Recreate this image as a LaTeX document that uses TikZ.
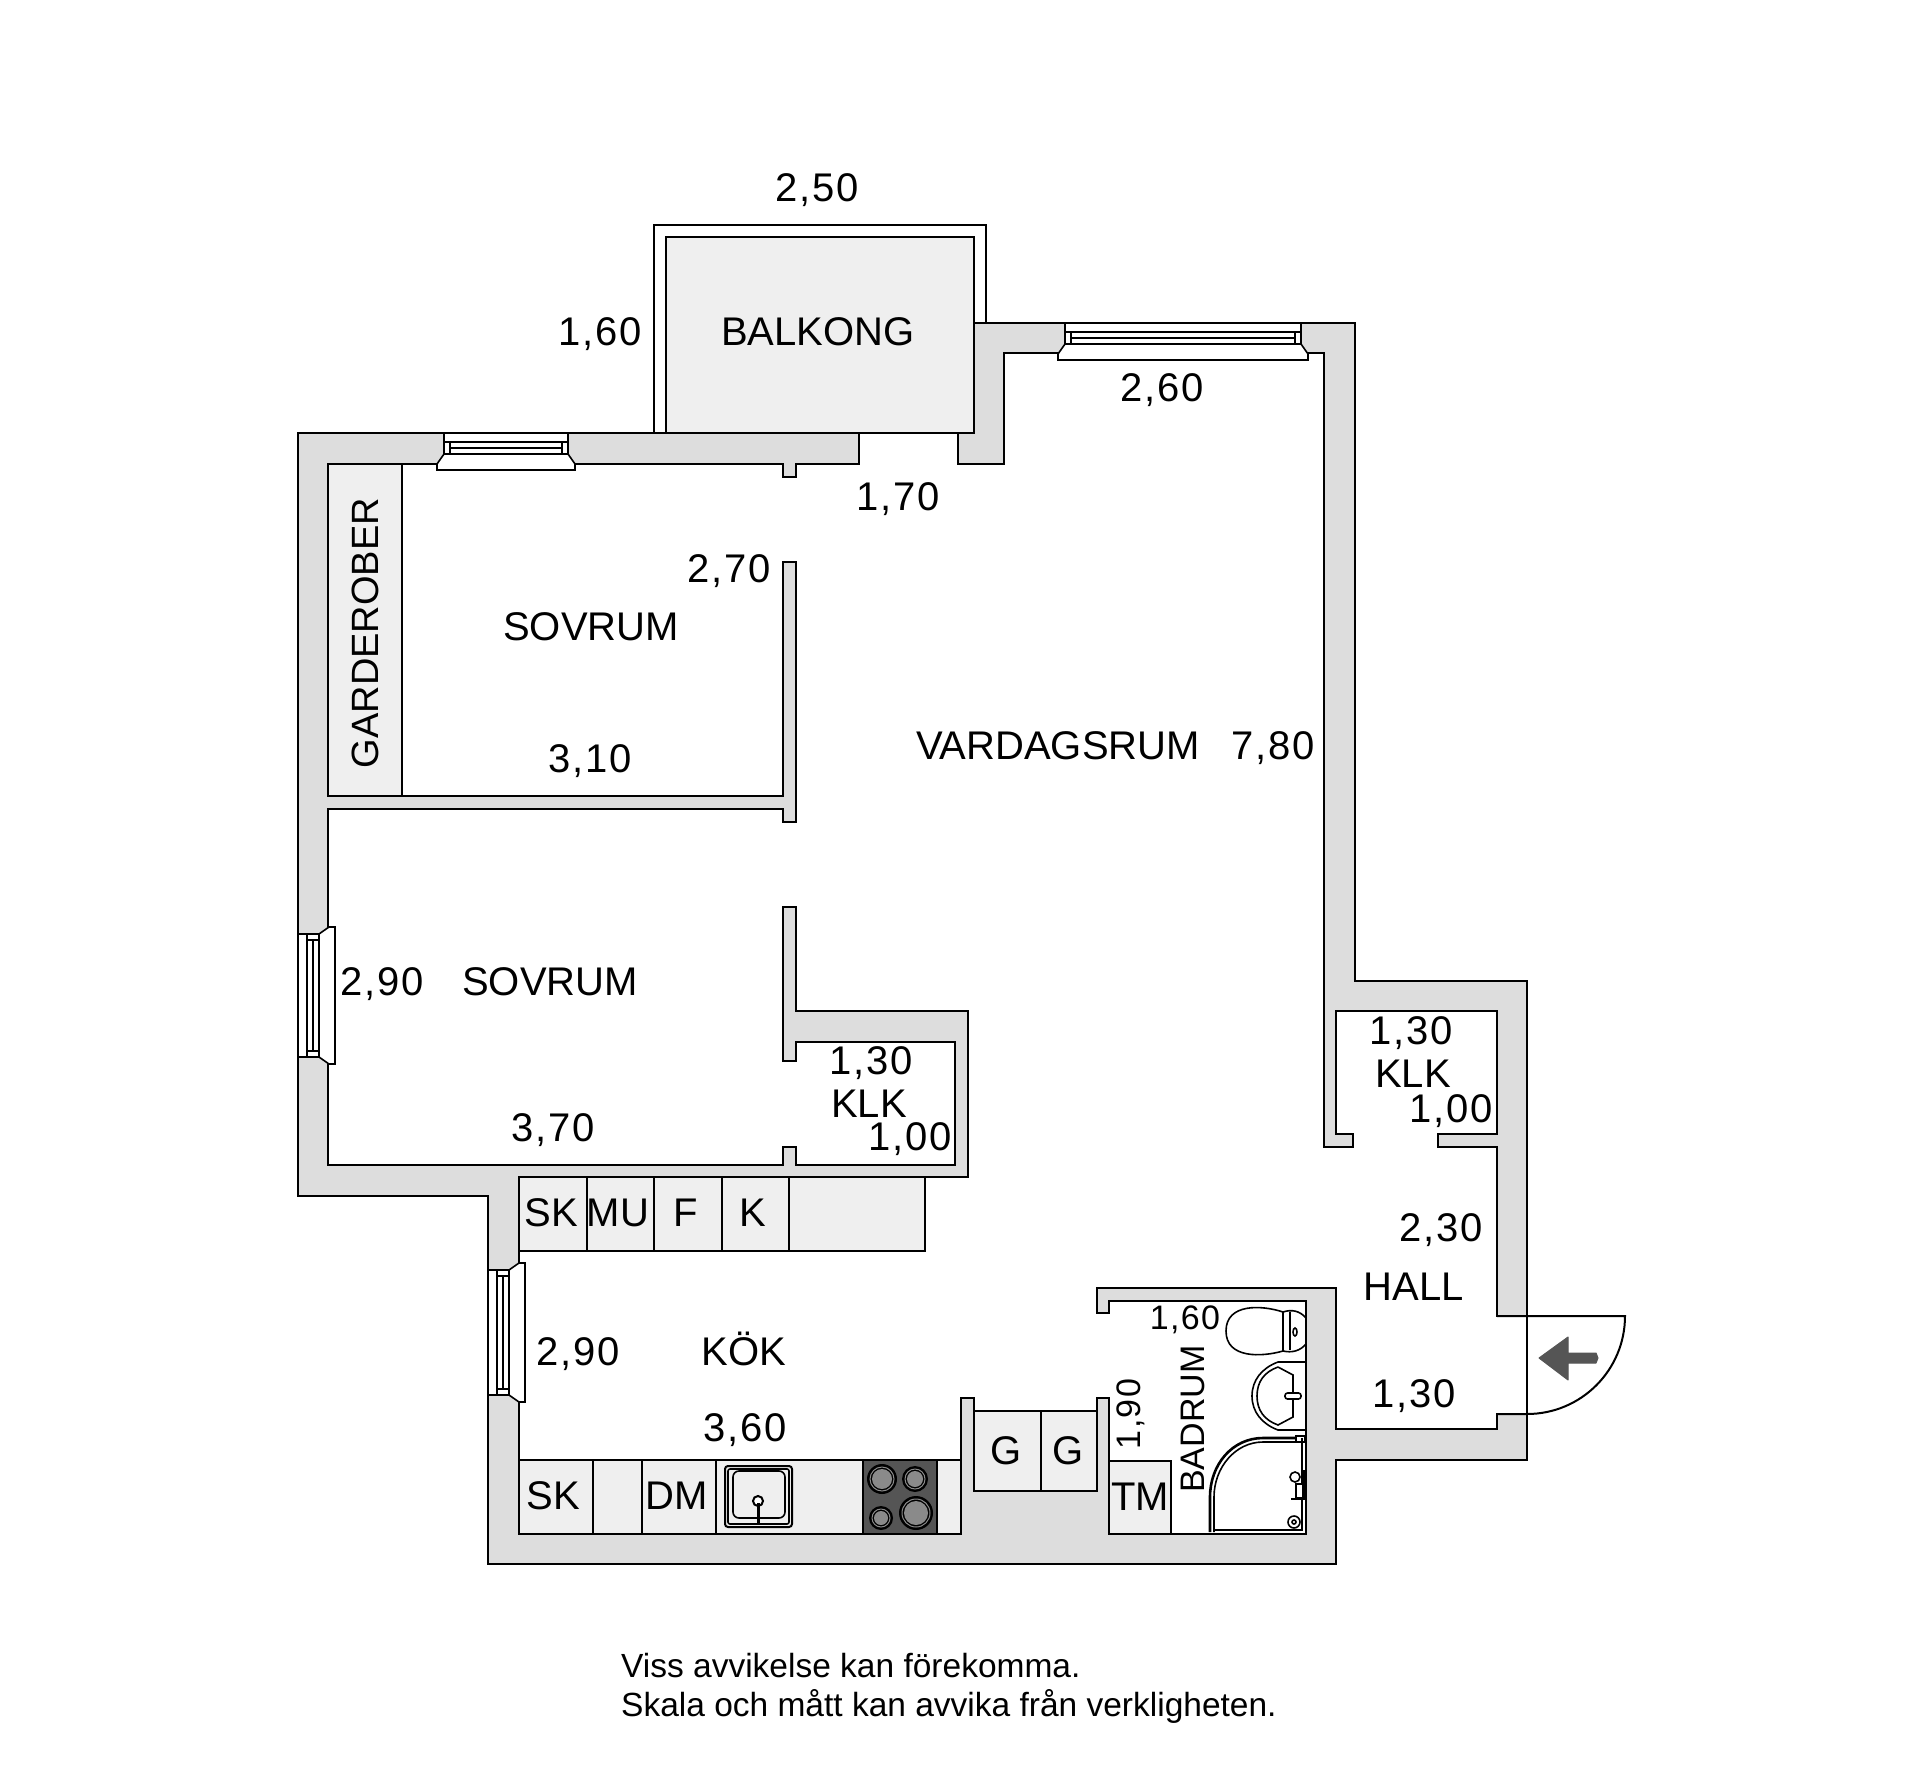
\documentclass[tikz,border=0pt]{standalone}
\usepackage{fontspec}
\setmainfont{Liberation Sans}
\newfontfamily\numfont[LetterSpace=4]{Liberation Sans}
\usepackage{xcolor}
\usetikzlibrary{calc}
\definecolor{wallgray}{HTML}{DDDDDD}
\definecolor{unitgray}{HTML}{EFEFEF}
\definecolor{hobgray}{HTML}{555555}
\definecolor{ringgray}{HTML}{8A8A8A}

\begin{document}
\begin{tikzpicture}[x=1pt,y=-1pt]
    % Styles
    \tikzstyle{wall} = [draw=black, fill=wallgray, line width=2.2pt, line join=miter]
    \tikzstyle{unit} = [draw=black, fill=unitgray, line width=1.6pt]
    \tikzstyle{thin} = [draw=black, line width=1.6pt]
    \tikzstyle{fixture} = [draw=black, fill=white, line width=1.6pt]
    \tikzstyle{label} = [font=\fontsize{40}{40}\selectfont, inner sep=0pt, yshift=-1pt]
    \tikzstyle{small} = [font=\fontsize{34}{34}\selectfont, inner sep=0pt]
    \tikzstyle{measure} = [font=\numfont\fontsize{40}{40}\selectfont, inner sep=0pt, yshift=-3pt]
    \tikzstyle{smallmeasure} = [font=\numfont\fontsize{34}{34}\selectfont, inner sep=0pt]
    \useasboundingbox (0,0) rectangle (1920,1787);

    % Balcony
    \draw[thin, line width=2pt] (654,433) -- (654,225) -- (986,225) -- (986,323);
    \draw[unit, line width=2.2pt] (666,433) -- (666,237) -- (974,237) -- (974,433) -- cycle;

    % Cabinets behind the walls
    \draw[unit] (519,1177) rectangle (925,1251);
    \foreach \xx in {587,654,722,789}
        \draw[thin] (\xx,1177) -- (\xx,1251);
    \draw[unit] (519,1460) rectangle (961,1534);
    \foreach \xx in {593,642,716}
        \draw[thin] (\xx,1460) -- (\xx,1534);
    \draw[unit] (974,1411) rectangle (1097,1491);
    \draw[thin] (1041,1411) -- (1041,1491);
    \draw[unit] (1109,1461) rectangle (1171,1534);
    \draw[unit] (328,464) rectangle (402,796);

    % Main wall
    \draw[wall] (298,433) -- (859,433) -- (859,464) -- (796,464) -- (796,477) -- (783,477) -- (783,464)
        -- (328,464) -- (328,796) -- (783,796) -- (783,562) -- (796,562) -- (796,822) -- (783,822) -- (783,809)
        -- (328,809) -- (328,1165) -- (783,1165) -- (783,1147) -- (796,1147) -- (796,1165) -- (955,1165)
        -- (955,1042) -- (796,1042) -- (796,1061) -- (783,1061) -- (783,907) -- (796,907) -- (796,1011)
        -- (968,1011) -- (968,1177) -- (519,1177) -- (519,1534) -- (961,1534) -- (961,1398) -- (974,1398)
        -- (974,1491) -- (1097,1491) -- (1097,1398) -- (1109,1398) -- (1109,1534) -- (1306,1534) -- (1306,1301)
        -- (1109,1301) -- (1109,1313) -- (1097,1313) -- (1097,1288) -- (1336,1288) -- (1336,1429) -- (1497,1429)
        -- (1497,1414) -- (1527,1414) -- (1527,1460) -- (1336,1460) -- (1336,1564) -- (488,1564) -- (488,1196)
        -- (298,1196) -- cycle;
    % Outer wall to the right
    \draw[wall] (974,323) -- (1355,323) -- (1355,981) -- (1527,981) -- (1527,1316) -- (1497,1316) -- (1497,1147)
        -- (1438,1147) -- (1438,1134) -- (1497,1134) -- (1497,1011) -- (1336,1011) -- (1336,1134) -- (1353,1134)
        -- (1353,1147) -- (1324,1147) -- (1324,353) -- (1004,353) -- (1004,464) -- (958,464) -- (958,433)
        -- (974,433) -- cycle;

    % Windows
    \foreach \xa/\xb/\yy in {444/568/433, 1065/1301/323} {
        \draw[fixture] (\xa,\yy) -- (\xb,\yy) -- (\xb,\yy+21) -- (\xb+7,\yy+31) -- (\xb+7,\yy+37)
            -- (\xa-7,\yy+37) -- (\xa-7,\yy+31) -- (\xa,\yy+21) -- cycle;
        \draw[thin] (\xa,\yy+9) -- (\xb,\yy+9) (\xa,\yy+21) -- (\xb,\yy+21) (\xa+6,\yy+15) -- (\xb-6,\yy+15)
            (\xa+6,\yy+9) -- (\xa+6,\yy+21) (\xb-6,\yy+9) -- (\xb-6,\yy+21);
    }
    \foreach \ya/\yb/\xx in {934/1057/298, 1270/1395/488} {
        \draw[fixture] (\xx,\ya) -- (\xx,\yb) -- (\xx+21,\yb) -- (\xx+31,\yb+7) -- (\xx+37,\yb+7)
            -- (\xx+37,\ya-7) -- (\xx+31,\ya-7) -- (\xx+21,\ya) -- cycle;
        \draw[thin] (\xx+9,\ya) -- (\xx+9,\yb) (\xx+21,\ya) -- (\xx+21,\yb) (\xx+15,\ya+6) -- (\xx+15,\yb-6)
            (\xx+9,\ya+6) -- (\xx+21,\ya+6) (\xx+9,\yb-6) -- (\xx+21,\yb-6);
    }

    % Door and arrow
    \draw[thin, line width=2pt] (1497,1316) -- (1625,1316) arc[start angle=0, end angle=-90, radius=98pt] -- (1497,1414);
    \draw[thin, line width=2pt] (1527,1414) -- (1527,1316);
    \fill[hobgray, draw=hobgray, line width=1pt, line join=round] (1539,1358) -- (1568,1337) -- (1568,1353)
        -- (1596,1353) -- (1598,1358) -- (1596,1363) -- (1568,1363) -- (1568,1380) -- cycle;

    % Sink
    \draw[thin, rounded corners=3pt, line width=2pt] (725,1466) rectangle (792,1527);
    \draw[thin, rounded corners=2pt] (728,1469) rectangle (789,1524);
    \draw[thin, rounded corners=6pt] (733,1471) rectangle (785,1518);
    \draw[thin, line width=2pt, fill=white] (758,1501) circle (5pt);
    \draw[thin, line width=3pt] (758,1503) -- (758,1523);
    % Hob
    \fill[hobgray, draw=black, line width=1.6pt] (863,1460) rectangle (937,1534);
    \foreach \bx/\by/\br in {882/1479/15, 915/1479/13, 881/1518/12, 916/1513/17} {
        \fill[black] (\bx,\by) circle (\br pt);
        \draw[ringgray, line width=1pt] (\bx,\by) circle (\br pt-3pt);
        \fill[ringgray] (\bx,\by) circle (\br pt-5pt);
    }

    % Toilet
    \draw[thin] (1283,1312) .. controls (1262,1305) and (1226,1303) .. (1226,1331)
        .. controls (1226,1359) and (1262,1357) .. (1283,1351) -- cycle;
    \draw[thin] (1290,1312) -- (1290,1350);
    \draw[thin] (1283,1312) .. controls (1292,1309) and (1300,1311) .. (1306,1318);
    \draw[thin] (1283,1351) .. controls (1292,1353) and (1300,1351) .. (1306,1344);
    \draw[thin] (1295,1332) ellipse (2pt and 4pt);
    % Basin
    \draw[thin] (1306,1362) -- (1278,1362) .. controls (1262,1368) and (1252,1380) .. (1252,1396)
        .. controls (1252,1412) and (1262,1424) .. (1278,1430) -- (1306,1430);
    \draw[thin] (1278,1367) -- (1293,1375) -- (1293,1417) -- (1278,1425)
        .. controls (1264,1420) and (1257,1410) .. (1257,1396) .. controls (1257,1382) and (1264,1372) .. (1278,1367);
    \draw[fixture, rounded corners=2.5pt] (1285,1393) rectangle (1301,1399);
    % Shower
    \draw[thin, line width=2.6pt] (1210,1532) -- (1210,1497) .. controls (1210,1465) and (1232,1438) .. (1263,1438) -- (1298,1438);
    \draw[thin] (1214,1532) -- (1214,1497) .. controls (1214,1468) and (1235,1442) .. (1263,1442) -- (1296,1442);
    \draw[fixture] (1296,1436) rectangle (1305,1442);
    \draw[thin] (1302,1438) -- (1302,1530) -- (1214,1530);
    \draw[thin] (1294,1522) circle (6pt);
    \draw[thin] (1294,1522) circle (2pt);
    \draw[fixture] (1296,1484) rectangle (1304,1498);
    \draw[fixture] (1295,1477) circle (5pt);
    \draw[thin, line width=3pt] (1303,1470) -- (1303,1500);
    \draw[thin] (1291,1499) -- (1304,1499);

    % Room names
    \node[label] (balkong) at (818,331) {BALKONG};
    \node[label, rotate=90, font=\fontsize{38}{38}\selectfont] (garderober) at (365,632) {GARDEROBER};
    \node[label] (sovrum_a) at (591,626) {SOVRUM};
    \node[label] (sovrum_b) at (550,981) {SOVRUM};
    \node[label] (vardagsrum) at (1058,745) {VARDAGSRUM};
    \node[label] (klk_a) at (869,1103) {KLK};
    \node[label] (klk_b) at (1413,1073) {KLK};
    \node[label] (hall) at (1414,1286) {HALL};
    \node[label] (kok) at (744,1348) {KÖK};
    \node[small, rotate=90] (badrum) at (1193,1419) {BADRUM};

    % Measures
    \node[measure] (m_balk_w) at (817,187) {2,50};
    \node[measure] (m_balk_h) at (600,331) {1,60};
    \node[measure] (m_vard_a) at (1162,387) {2,60};
    \node[measure] (m_vard_b) at (898,496) {1,70};
    \node[measure] (m_sov_a) at (729,568) {2,70};
    \node[measure] (m_sov_b) at (590,758) {3,10};
    \node[measure] (m_vard_c) at (1273,745) {7,80};
    \node[measure] (m_sov_c) at (382,981) {2,90};
    \node[measure] (m_sov_d) at (553,1127) {3,70};
    \node[measure] (m_klk_a) at (871,1060) {1,30};
    \node[measure] (m_klk_b) at (910,1136) {1,00};
    \node[measure] (m_klk_c) at (1411,1030) {1,30};
    \node[measure] (m_klk_d) at (1451,1108) {1,00};
    \node[measure] (m_hall_a) at (1441,1227) {2,30};
    \node[measure] (m_hall_b) at (1414,1393) {1,30};
    \node[measure] (m_kok_a) at (578,1351) {2,90};
    \node[measure] (m_kok_b) at (745,1427) {3,60};
    \node[smallmeasure] (m_bad_a) at (1185,1320) {1,60};
    \node[smallmeasure, rotate=90] (m_bad_b) at (1131,1414) {1,90};

    % Units
    \node[label] (u_sk_a) at (551,1212) {SK};
    \node[label] (u_mu) at (618,1212) {MU};
    \node[label] (u_f) at (686,1212) {F};
    \node[label] (u_k) at (753,1212) {K};
    \node[label] (u_sk_b) at (553,1495) {SK};
    \node[label] (u_dm) at (677,1495) {DM};
    \node[label] (u_g_a) at (1006,1450) {G};
    \node[label] (u_g_b) at (1068,1450) {G};
    \node[label] (u_tm) at (1140,1496) {TM};

    % Note
    \node[font=\fontsize{33.5}{39}\selectfont, align=left, anchor=north west, inner sep=0pt] (note) at (621,1653)
        {Viss avvikelse kan förekomma.\\Skala och mått kan avvika från verkligheten.};
\end{tikzpicture}
\end{document}
